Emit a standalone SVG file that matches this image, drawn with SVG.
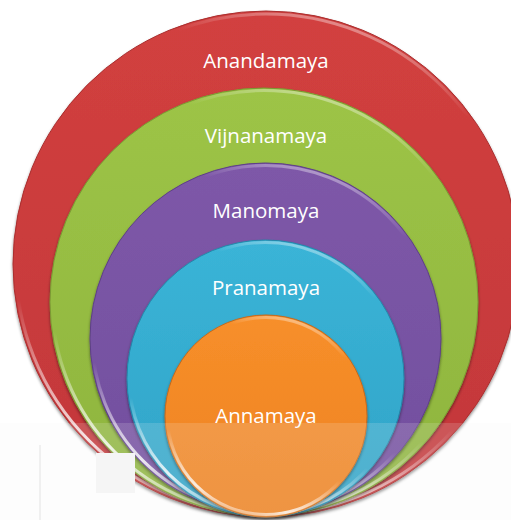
<svg xmlns="http://www.w3.org/2000/svg" width="511" height="520" viewBox="0 0 511 520">
  <defs>
    <style>
      .lbl { font-family: "Open Sans", "Liberation Sans", sans-serif; font-size: 20.5px; fill: #ffffff; text-anchor: middle; }
      .rim { fill: none; stroke: url(#rimGrad); stroke-width: 3; }
    </style>
    <filter id="shadow" x="-10%" y="-10%" width="120%" height="125%">
      <feDropShadow dx="0" dy="2" stdDeviation="1.6" flood-color="#000000" flood-opacity="0.45"/>
    </filter>
    <linearGradient id="rimGrad" x1="0.65" y1="0" x2="0.35" y2="1">
      <stop offset="0" stop-color="#ffffff" stop-opacity="0.45"/>
      <stop offset="0.12" stop-color="#ffffff" stop-opacity="0"/>
      <stop offset="0.7" stop-color="#ffffff" stop-opacity="0"/>
      <stop offset="0.92" stop-color="#ffffff" stop-opacity="0.85"/>
      <stop offset="1" stop-color="#ffffff" stop-opacity="0.3"/>
    </linearGradient>
    <linearGradient id="gRed" x1="0" y1="0" x2="0" y2="1">
      <stop offset="0" stop-color="#D2403F"/>
      <stop offset="1" stop-color="#C2373A"/>
    </linearGradient>
    <linearGradient id="gGreen" x1="0" y1="0" x2="0" y2="1">
      <stop offset="0" stop-color="#9DC446"/>
      <stop offset="1" stop-color="#8EB43F"/>
    </linearGradient>
    <linearGradient id="gPurple" x1="0" y1="0" x2="0" y2="1">
      <stop offset="0" stop-color="#7E58A8"/>
      <stop offset="1" stop-color="#714E9E"/>
    </linearGradient>
    <linearGradient id="gBlue" x1="0" y1="0" x2="0" y2="1">
      <stop offset="0" stop-color="#3AB4D7"/>
      <stop offset="1" stop-color="#30A3C7"/>
    </linearGradient>
    <linearGradient id="gOrange" x1="0" y1="0" x2="0" y2="1">
      <stop offset="0" stop-color="#F78F2A"/>
      <stop offset="1" stop-color="#EE8222"/>
    </linearGradient>
  </defs>

  <rect width="511" height="520" fill="#ffffff"/>

  <g id="anandamaya">
    <circle cx="266" cy="264" r="253" fill="url(#gRed)" stroke="#A92E2E" stroke-width="1" filter="url(#shadow)"/>
    <circle class="rim" cx="266" cy="264" r="250"/>
    <text class="lbl" x="266" y="68">Anandamaya</text>
  </g>

  <g id="vijnanamaya">
    <circle cx="264" cy="302" r="214" fill="url(#gGreen)" stroke="#7A9A33" stroke-width="1" filter="url(#shadow)"/>
    <circle class="rim" cx="264" cy="302" r="211.5"/>
    <text class="lbl" x="266" y="143">Vijnanamaya</text>
  </g>

  <g id="manomaya">
    <circle cx="265.5" cy="338.5" r="175.5" fill="url(#gPurple)" stroke="#5E3F88" stroke-width="1" filter="url(#shadow)"/>
    <circle class="rim" cx="265.5" cy="338.5" r="173"/>
    <text class="lbl" x="266" y="218">Manomaya</text>
  </g>

  <g id="pranamaya">
    <circle cx="265.5" cy="378.5" r="138.5" fill="url(#gBlue)" stroke="#2388AA" stroke-width="1" filter="url(#shadow)"/>
    <circle class="rim" cx="265.5" cy="378.5" r="136"/>
    <text class="lbl" x="266" y="295">Pranamaya</text>
  </g>

  <g id="annamaya">
    <circle cx="266" cy="416" r="101" fill="url(#gOrange)" stroke="#C8691A" stroke-width="1" filter="url(#shadow)"/>
    <circle class="rim" cx="266" cy="416" r="98.5"/>
    <text class="lbl" x="266" y="423">Annamaya</text>
  </g>

  <g id="watermark">
    <rect x="0" y="423" width="511" height="97" fill="#f4f4f4" fill-opacity="0.16"/>
    <rect x="39" y="445" width="2" height="75" fill="#f0f0f0"/>
    <rect x="96" y="453" width="39" height="40" fill="#f5f5f5"/>
  </g>
</svg>
